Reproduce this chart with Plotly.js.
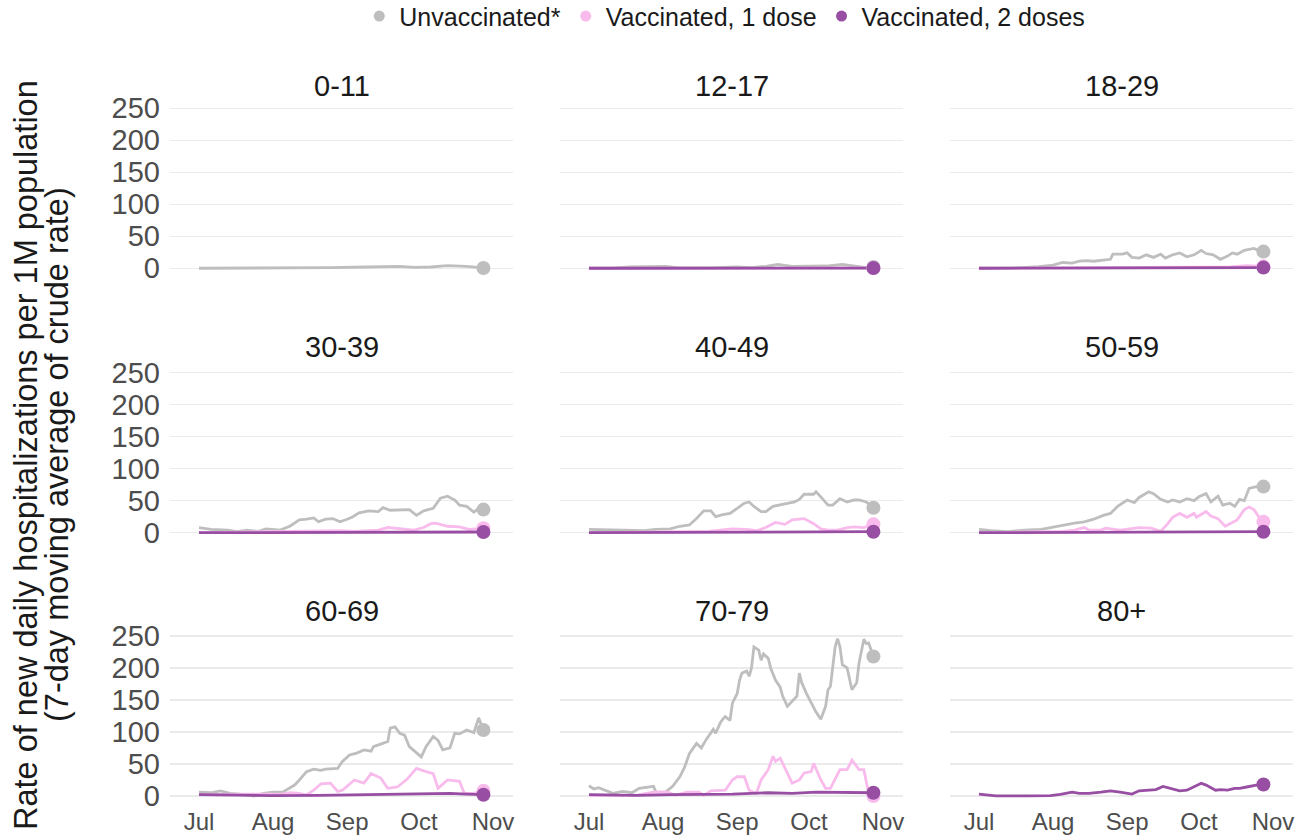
<!DOCTYPE html>
<html><head><meta charset="utf-8">
<script src="https://cdn.plot.ly/plotly-3.0.1.min.js"></script>
<style>html,body{margin:0;padding:0;background:#fff}#chart{width:1297px;height:838px}</style>
</head><body><div id="chart"></div>
<script>
// ---------- categories & labels ----------
const ageGroups = ['0-11','12-17','18-29','30-39','40-49','50-59','60-69','70-79','80+'];
const seriesNames = ['Unvaccinated*','Vaccinated, 1 dose','Vaccinated, 2 doses'];
const seriesColors = ['#BEBEBE','#F8BBEC','#984EA3'];
const monthTicks = ['2021-07-01','2021-08-01','2021-09-01','2021-10-01','2021-11-01'];
const monthLabels = ['Jul','Aug','Sep','Oct','Nov'];
const yTicks = [0,50,100,150,200,250];

// ---------- data: day offsets from 2021-07-01 and rates per 1M ----------
const days_0011_unvax = [0,15,30,41,55,70,84,90,97,104,112,119];
const rate_0011_unvax = [0,0,0,1,1,2,3,1.5,2,4,3,0.5];

const days_1217_unvax = [0,10,17,25,32,38,50,62,68,74,79,85,91,99,106,112,116,119];
const rate_1217_unvax = [0,0,2,2,3,0.5,0.5,2,1,3,6,3,3.5,3.5,6,3,1,2];
const days_1217_dose1 = [0,30,60,90,119];
const rate_1217_dose1 = [0,0.3,0.5,0.8,0.5];
const days_1217_dose2 = [0,60,119];
const rate_1217_dose2 = [0,0.3,0.3];

const days_1829_unvax = [0,15,25,31,35,39,42,45,48,52,55,56,60,62,64,67,70,73,76,78,81,84,87,90,93,95,98,101,104,106,108,111,113,115,117,119];
const rate_1829_unvax = [0,0.5,2.6,5,9,8,11,12,11,13,14,22,22,24,17,16,21,17,22,16,21,24,18,21,28,23,21,14,19,24,22,28,30,31,28,26];
const days_1829_dose1 = [0,30,60,90,105,112,116,119];
const rate_1829_dose1 = [0,0.5,1.5,2,2,4,4,3];
const days_1829_dose2 = [0,40,60,90,119];
const rate_1829_dose2 = [0,0.5,1,1.5,1];

const days_3039_unvax = [0,5,12,16,20,25,28,34,38,42,45,48,50,53,56,59,62,64,67,71,75,77,80,84,88,91,94,98,101,104,107,109,112,115,117,119];
const rate_3039_unvax = [8,5,4,1.5,4,2,6,4,10,20,21,23,17,21,22,17,21,24,31,34,33,39,35,35,36,27,34,38,54,57,51,43,41,32,38,36];
const days_3039_dose1 = [0,30,50,59,65,70,75,79,82,86,90,94,97,99,104,109,113,116,119];
const rate_3039_dose1 = [0,1,2,3,2,3,4,8,7,5,4,8,14,15,10,9,5,6,7];
const days_3039_dose2 = [0,30,60,90,119];
const rate_3039_dose2 = [0,0.5,1,1.5,1];

const days_4049_unvax = [0,9,16,23,28,34,38,42,45,48,51,53,56,59,62,65,67,69,72,74,77,80,83,86,88,90,94,95,97,100,102,105,108,111,113,116,119];
const rate_4049_unvax = [5,4,4,3,5,6,10,12,22,34,34,25,28,30,38,46,48,41,33,33,41,43,46,48,52,60,60,64,56,43,43,53,48,51,51,48,39];
const days_4049_dose1 = [0,30,50,55,60,66,70,74,78,82,85,90,94,97,100,104,108,111,115,119];
const rate_4049_dose1 = [0,1,2,4,6,5,3,8,16,13,20,22,14,6,4,4,8,9,8,13];
const days_4049_dose2 = [0,30,60,90,110,119];
const rate_4049_dose2 = [0,0.5,1,1.5,2,1.5];

const days_5059_unvax = [0,5,12,19,26,30,34,40,44,48,52,55,58,62,65,67,71,73,76,79,81,84,87,90,92,95,97,100,102,105,107,109,111,113,116,119];
const rate_5059_unvax = [5,3,1.5,4,5,8,10,15,17,21,27,30,41,51,47,55,64,61,52,48,51,48,53,50,56,61,48,57,43,46,41,52,50,69,72,72];
const days_5059_dose1 = [0,20,35,40,44,46,51,53,59,67,72,76,79,81,84,87,90,91,94,95,97,100,103,105,108,111,113,115,117,119];
const rate_5059_dose1 = [0,1,2,4,8,4,4,7,4,8,7,2,14,24,30,24,30,24,30,33,26,22,10,14,20,36,40,36,25,17];
const days_5059_dose2 = [0,30,60,90,105,119];
const rate_5059_dose2 = [0,0.5,1,2,2,1.5];

const days_6069_unvax = [0,5,9,13,17,23,27,31,35,40,42,45,48,51,53,58,60,63,66,69,72,73,76,79,80,82,84,86,88,91,93,95,98,100,102,105,107,109,112,115,117,119];
const rate_6069_unvax = [6,5,8,4,3,0,4,6,6,17,25,38,42,40,42,43,54,64,67,72,70,77,81,85,106,108,98,95,77,67,61,77,93,87,72,75,98,97,103,99,122,103];
const days_6069_dose1 = [0,20,35,38,42,45,48,51,55,58,60,65,69,72,76,79,83,87,91,95,98,100,104,109,111,115,119];
const rate_6069_dose1 = [2,2,3,5,4,1.5,9,19,20,7,9,25,20,35,28,12,14,26,43,38,35,12,25,23,4,4,8];
const days_6069_dose2 = [0,15,30,50,70,90,105,112,119];
const rate_6069_dose2 = [2,1,0.5,1,2,3,4,3,2];

const days_7079_unvax = [0,2,4,6,10,14,18,21,24,27,28,32,35,38,40,42,45,47,49,52,53,55,56,57,59,60,62,63,64,66,67,68,69,71,72,73,75,76,78,80,81,83,85,87,88,89,91,93,95,97,99,100,101,103,104,105,106,108,109,110,112,113,115,116,117,119];
const rate_7079_unvax = [16,11,13,10,4,7,5,12,13,15,6,6,15,30,45,66,82,75,88,104,98,115,120,124,118,145,160,181,192,195,187,200,233,228,212,222,215,200,181,170,156,140,148,156,192,177,160,145,131,120,140,166,171,233,246,233,205,200,181,166,177,208,245,238,239,218];
const days_7079_dose1 = [0,20,24,27,33,36,41,46,48,51,57,60,62,65,67,70,72,75,77,78,80,83,85,88,90,93,94,97,99,101,103,105,108,110,113,115,117,119];
const rate_7079_dose1 = [1,1,4,6,6,1,6,6,1,8,9,25,30,30,9,4,25,41,62,54,59,36,20,25,36,38,51,25,12,12,27,41,41,56,41,41,4,0];
const days_7079_dose2 = [0,20,35,50,60,75,85,95,105,119];
const rate_7079_dose2 = [2,1,2,2,3,5,4,6,6,5];

const days_80up_dose2 = [0,3,7,20,30,34,39,42,46,51,55,59,64,67,72,74,77,80,84,87,90,93,95,99,101,104,107,109,112,116,119];
const rate_80up_dose2 = [3,1.5,0,0,0.5,2.6,6,4,4,6,8,6,3,8,9,10,15,12,8,9,15,20,17,9,10,9,12,12,14,17,18];

// panel -> [unvax, dose1, dose2] (null = not shown)
const panelSeries = [
  [[days_0011_unvax, rate_0011_unvax], null, null],
  [[days_1217_unvax, rate_1217_unvax], [days_1217_dose1, rate_1217_dose1], [days_1217_dose2, rate_1217_dose2]],
  [[days_1829_unvax, rate_1829_unvax], [days_1829_dose1, rate_1829_dose1], [days_1829_dose2, rate_1829_dose2]],
  [[days_3039_unvax, rate_3039_unvax], [days_3039_dose1, rate_3039_dose1], [days_3039_dose2, rate_3039_dose2]],
  [[days_4049_unvax, rate_4049_unvax], [days_4049_dose1, rate_4049_dose1], [days_4049_dose2, rate_4049_dose2]],
  [[days_5059_unvax, rate_5059_unvax], [days_5059_dose1, rate_5059_dose1], [days_5059_dose2, rate_5059_dose2]],
  [[days_6069_unvax, rate_6069_unvax], [days_6069_dose1, rate_6069_dose1], [days_6069_dose2, rate_6069_dose2]],
  [[days_7079_unvax, rate_7079_unvax], [days_7079_dose1, rate_7079_dose1], [days_7079_dose2, rate_7079_dose2]],
  [null, null, [days_80up_dose2, rate_80up_dose2]]
];

function toDate(d) {
  return new Date(Date.UTC(2021, 6, 1) + d * 86400000).toISOString().slice(0, 10);
}

// ---------- layout geometry ----------
const W = 1297, H = 838;
const colDomains = [[170/W, 513/W], [560/W, 903/W], [950/W, 1293/W]];
const rowDomains = [[1-276.2/H, 1-101.6/H], [1-540.6/H, 1-366.0/H], [1-803.9/H, 1-629.3/H]];
const titleY = [1-86/H, 1-347/H, 1-611/H];
const FONT = 'Liberation Sans, Arial, Helvetica, sans-serif';

const traces = [];
const layout = {
  width: W, height: H,
  margin: {l: 0, r: 0, t: 0, b: 0, autoexpand: false},
  paper_bgcolor: '#ffffff', plot_bgcolor: '#ffffff',
  font: {family: FONT, color: '#1a1a1a'},
  showlegend: true,
  legend: {orientation: 'h', x: 0.277, xanchor: 'left', y: 1.008, yanchor: 'top',
           font: {size: 25, color: '#1a1a1a', family: FONT}, bgcolor: 'rgba(0,0,0,0)',
           itemclick: false, traceorder: 'normal'},
  annotations: [],
  hovermode: false
};

ageGroups.forEach((grp, i) => {
  const row = Math.floor(i / 3), col = i % 3;
  const sfx = i === 0 ? '' : String(i + 1);
  const xa = 'x' + sfx, ya = 'y' + sfx;
  layout['xaxis' + sfx] = {
    domain: colDomains[col], anchor: ya, type: 'date',
    range: ['2021-06-18 21:00', '2021-11-09 09:00'],
    tickvals: monthTicks, ticktext: monthLabels,
    showticklabels: row === 2, showgrid: false, zeroline: false, showline: false,
    ticks: '', ticklabelstandoff: 1, automargin: false,
    tickfont: {size: 24, color: '#4D4D4D', family: FONT}, fixedrange: true
  };
  layout['yaxis' + sfx] = {
    domain: rowDomains[row], anchor: xa,
    range: [-12.4, 260.4], tickvals: yTicks,
    showticklabels: col === 0, showgrid: true, gridcolor: '#EBEBEB', gridwidth: 1.1,
    zeroline: false, showline: false, ticks: '', ticklabelstandoff: 9, automargin: false,
    tickfont: {size: 29, color: '#4D4D4D', family: FONT}, fixedrange: true
  };
  layout.annotations.push({
    text: grp, xref: 'paper', yref: 'paper',
    x: (colDomains[col][0] + colDomains[col][1]) / 2, y: titleY[row],
    xanchor: 'center', yanchor: 'middle', showarrow: false,
    font: {size: 29, color: '#1a1a1a', family: FONT}
  });
  const ser = panelSeries[i];
  // lines
  ser.forEach((s, k) => {
    if (!s) return;
    traces.push({
      x: s[0].map(toDate), y: s[1], xaxis: xa, yaxis: ya,
      type: 'scatter', mode: 'lines', showlegend: false, hoverinfo: 'skip',
      line: {color: seriesColors[k], width: 2.8}
    });
  });
  // end points
  ser.forEach((s, k) => {
    if (!s) return;
    const n = s[0].length - 1;
    traces.push({
      x: [toDate(s[0][n])], y: [s[1][n]], xaxis: xa, yaxis: ya,
      type: 'scatter', mode: 'markers', showlegend: false, hoverinfo: 'skip',
      marker: {color: seriesColors[k], size: 14}
    });
  });
});

// legend-only entries
seriesNames.forEach((nm, k) => {
  traces.push({
    x: [null], y: [null], xaxis: 'x', yaxis: 'y', type: 'scatter', mode: 'markers',
    name: nm, showlegend: true, marker: {color: seriesColors[k], size: 11}
  });
});

// y axis title (two lines)
layout.annotations.push({
  text: 'Rate of new daily hospitalizations per 1M population', xref: 'paper', yref: 'paper',
  x: 26/W, y: 1-455/H, xanchor: 'center', yanchor: 'middle', textangle: -90, showarrow: false,
  font: {size: 32.5, color: '#1a1a1a', family: FONT}
});
layout.annotations.push({
  text: '(7-day moving average of crude rate)', xref: 'paper', yref: 'paper',
  x: 57/W, y: 1-455/H, xanchor: 'center', yanchor: 'middle', textangle: -90, showarrow: false,
  font: {size: 32.5, color: '#1a1a1a', family: FONT}
});

Plotly.newPlot('chart', traces, layout, {staticPlot: true, displayModeBar: false});
</script>
</body></html>
